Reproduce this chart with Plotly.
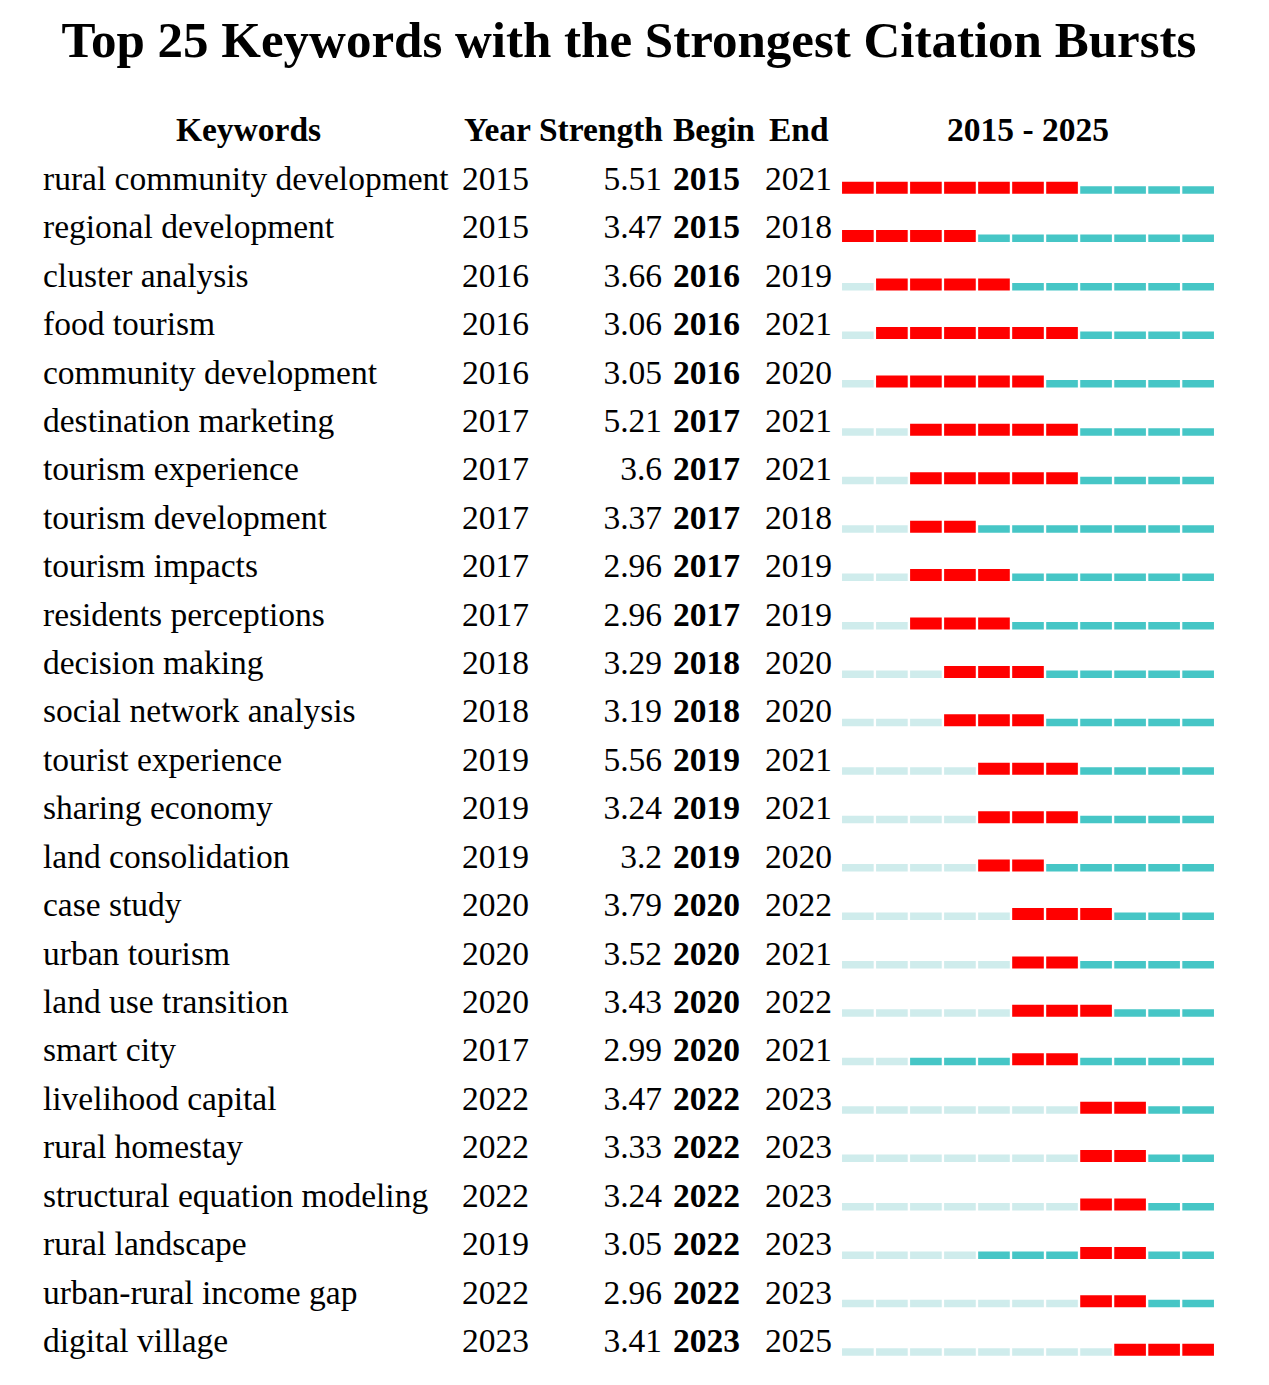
import plotly.graph_objects as go

title_text = "Top 25 Keywords with the Strongest Citation Bursts"
headers = ["Keywords", "Year", "Strength", "Begin", "End", "2015 - 2025"]
keywords = [
    "rural community development", "regional development", "cluster analysis",
    "food tourism", "community development", "destination marketing",
    "tourism experience", "tourism development", "tourism impacts",
    "residents perceptions", "decision making", "social network analysis",
    "tourist experience", "sharing economy", "land consolidation", "case study",
    "urban tourism", "land use transition", "smart city", "livelihood capital",
    "rural homestay", "structural equation modeling", "rural landscape",
    "urban-rural income gap", "digital village",
]
years = [2015, 2015, 2016, 2016, 2016, 2017, 2017, 2017, 2017, 2017, 2018, 2018,
         2019, 2019, 2019, 2020, 2020, 2020, 2017, 2022, 2022, 2022, 2019, 2022, 2023]
strengths = [5.51, 3.47, 3.66, 3.06, 3.05, 5.21, 3.6, 3.37, 2.96, 2.96, 3.29, 3.19,
             5.56, 3.24, 3.2, 3.79, 3.52, 3.43, 2.99, 3.47, 3.33, 3.24, 3.05, 2.96, 3.41]
begins = [2015, 2015, 2016, 2016, 2016, 2017, 2017, 2017, 2017, 2017, 2018, 2018,
          2019, 2019, 2019, 2020, 2020, 2020, 2020, 2022, 2022, 2022, 2022, 2022, 2023]
ends = [2021, 2018, 2019, 2021, 2020, 2021, 2021, 2018, 2019, 2019, 2020, 2020,
        2021, 2021, 2020, 2022, 2021, 2022, 2021, 2023, 2023, 2023, 2023, 2023, 2025]
timeline = list(range(2015, 2026))

W, H = 1269, 1385
ROW_PX = 48.42
ROW0_BOTTOM = 193.7
RED = "#ff0000"
TEAL = "#46c6c6"
LIGHT = "#cfecec"
FONT = "Liberation Serif, Times New Roman, serif"
FS = 33.5

n = len(keywords)
rows = list(range(n))

# segment classification
seg = {"red": ([], []), "teal": ([], []), "light": ([], [])}
for i in rows:
    for yr in timeline:
        if yr < years[i]:
            k = "light"
        elif begins[i] <= yr <= ends[i]:
            k = "red"
        else:
            k = "teal"
        seg[k][0].append(i)
        seg[k][1].append(yr)

fig = go.Figure()
SEG_LEN = 0.93
for k, color, hpx in [("light", LIGHT, 7.5), ("teal", TEAL, 7.5), ("red", RED, 12.0)]:
    ys, yrs = seg[k]
    h = hpx / ROW_PX
    fig.add_trace(go.Bar(
        orientation="h", y=ys, x=[SEG_LEN] * len(ys),
        base=[yr - SEG_LEN / 2 for yr in yrs],
        width=h, offset=-h, marker=dict(color=color, line=dict(width=0)),
        xaxis="x", yaxis="y", showlegend=False, hoverinfo="skip",
    ))

TXT_OFF = (0.5 + 0.35 * FS) / ROW_PX
ty = [i - TXT_OFF for i in rows]

def txt(xpos, texts, pos, bold=False, yy=None, size=FS):
    fig.add_trace(go.Scatter(
        x=[xpos] * len(texts), y=yy if yy is not None else ty, text=texts,
        mode="text", textposition=pos, xaxis="x2", yaxis="y",
        textfont=dict(family=FONT, size=size, color="black",
                      weight="bold" if bold else "normal"),
        showlegend=False, hoverinfo="skip",
    ))

txt(43, keywords, "middle right")
txt(462, [str(v) for v in years], "middle right")
txt(662, [str(v) for v in strengths], "middle left")
txt(673, [str(v) for v in begins], "middle right", bold=True)
txt(765, [str(v) for v in ends], "middle right")

hy = [-1 - TXT_OFF]
txt(248.5, [headers[0]], "middle center", bold=True, yy=hy)
txt(464, [headers[1]], "middle right", bold=True, yy=hy)
txt(663, [headers[2]], "middle left", bold=True, yy=hy)
txt(673, [headers[3]], "middle right", bold=True, yy=hy)
txt(769, [headers[4]], "middle right", bold=True, yy=hy)
txt(1028, [headers[5]], "middle center", bold=True, yy=hy)

fig.update_layout(
    width=W, height=H,
    margin=dict(l=0, r=0, t=0, b=0),
    paper_bgcolor="white", plot_bgcolor="rgba(0,0,0,0)",
    barmode="overlay",
    title=dict(text="<b>" + title_text + "</b>", x=629 / W, xanchor="center",
               y=1 - 39.5 / H, yanchor="middle", yref="container",
               font=dict(family=FONT, size=51, color="black")),
    xaxis=dict(domain=[840.85 / W, 1215.15 / W], range=[2014.5, 2025.5],
               visible=False, fixedrange=True, anchor="y"),
    xaxis2=dict(domain=[0, 1], range=[0, W], visible=False, anchor="y",
                fixedrange=True),
    yaxis=dict(domain=[0, 1], range=[(H - ROW0_BOTTOM) / ROW_PX, -ROW0_BOTTOM / ROW_PX],
               visible=False, fixedrange=True, anchor="x2"),
)

fig.write_html("out.html", post_script="document.body.style.margin='0';",
               config={"displayModeBar": False})
